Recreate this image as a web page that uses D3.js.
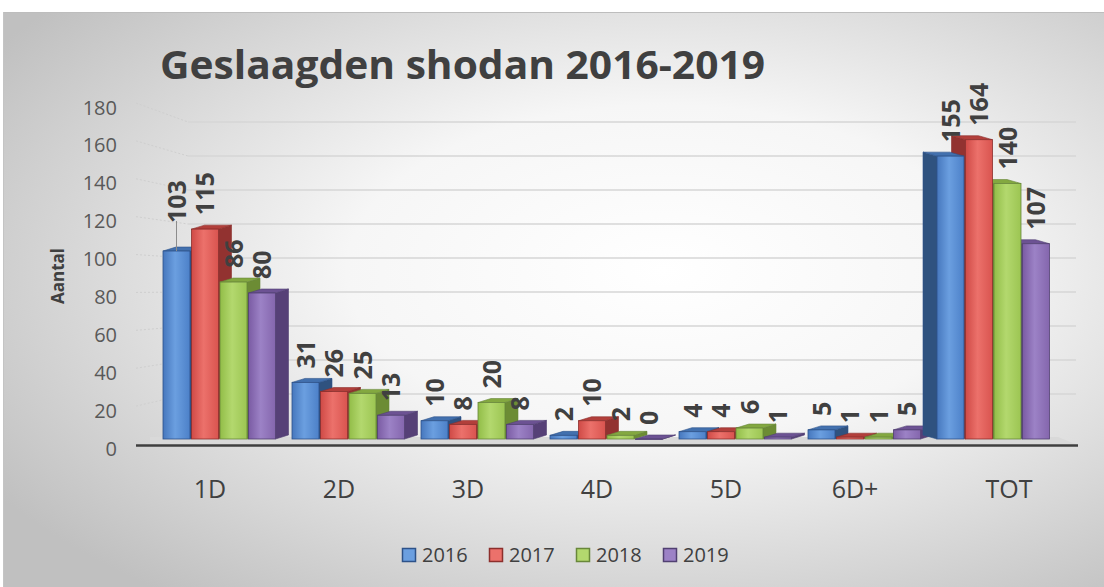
<!DOCTYPE html>
<html>
<head>
<meta charset="utf-8">
<script src="https://cdn.jsdelivr.net/npm/d3@7"></script>
<style>
  body { margin: 0; background: #ffffff; }
  svg { display: block; }
</style>
</head>
<body>
<svg id="chart" width="1104" height="587"></svg>
<script>
// Passed shodan exams per grade, 2016-2019
const categories = ["1D", "2D", "3D", "4D", "5D", "6D+", "TOT"];
const years = ["2016", "2017", "2018", "2019"];
const values2016 = [103, 31, 10, 2, 4, 5, 155];
const values2017 = [115, 26, 8, 10, 4, 1, 164];
const values2018 = [86, 25, 20, 2, 6, 1, 140];
const values2019 = [80, 13, 8, 0, 1, 5, 107];
const yTicks = [0, 20, 40, 60, 80, 100, 120, 140, 160, 180];

const seriesValues = [values2016, values2017, values2018, values2019];

// face colours per series: front (left, mid, right), side, top, outline
const palette = [
  { l: "#4677bd", m: "#6b9fe0", r: "#4c80c8", side: "#2f527f", top: "#4270ae", line: "#2d5289" },
  { l: "#cf4a46", m: "#ec716b", r: "#d9544f", side: "#923230", top: "#b23f3b", line: "#8c2f2c" },
  { l: "#92bd48", m: "#b3d86e", r: "#9cc552", side: "#6c8c34", top: "#83a840", line: "#68873a" },
  { l: "#7a5ba3", m: "#9c82c6", r: "#8466ad", side: "#564077", top: "#6c5293", line: "#514072" }
];

const svg = d3.select("#chart");
const W = 1104, H = 587;
const defs = svg.append("defs");

// chart area background
const bg = defs.append("radialGradient").attr("id", "bgGrad")
  .attr("cx", "0.6").attr("cy", "0.45").attr("r", "0.72");
bg.append("stop").attr("offset", "0").attr("stop-color", "#ffffff");
bg.append("stop").attr("offset", "0.4").attr("stop-color", "#f6f6f6");
bg.append("stop").attr("offset", "1").attr("stop-color", "#c0c0c0");

palette.forEach((p, i) => {
  const g = defs.append("linearGradient").attr("id", "front" + i)
    .attr("x1", "0").attr("x2", "1").attr("y1", "0").attr("y2", "0");
  g.append("stop").attr("offset", "0").attr("stop-color", p.l);
  g.append("stop").attr("offset", "0.45").attr("stop-color", p.m);
  g.append("stop").attr("offset", "1").attr("stop-color", p.r);
});

svg.append("rect").attr("x", 3).attr("y", 12).attr("width", W - 3).attr("height", H - 12)
  .attr("fill", "url(#bgGrad)");
svg.append("line").attr("x1", 3).attr("x2", W).attr("y1", 12.5).attr("y2", 12.5)
  .attr("stroke", "#bdbdbd").attr("stroke-width", 1);
svg.append("line").attr("x1", 3.5).attr("x2", 3.5).attr("y1", 12).attr("y2", H)
  .attr("stroke", "#c4c4c4").attr("stroke-width", 1);

// scales: bars, back-wall gridlines, front axis labels
const x = d3.scaleBand().domain(categories).range([163, 163 + 7 * 129]).padding(0);
const y = d3.scaleLinear().domain([0, 180]).range([439, 110.5]);
const yWall = d3.scaleLinear().domain([0, 180]).range([428, 122]);
const yLabel = d3.scaleLinear().domain([0, 180]).range([448, 107]);

const barStep = 28.5, barW = 27, depthY = -4;
const vanishX = 920;
const sideOf = c => (x(c) + x.bandwidth() / 2 < vanishX ? 1 : -1);
const depthX = c => (sideOf(c) > 0 ? 13 : -14);

// back-wall gridlines with their slanted connectors to the labels
const grid = svg.append("g");
yTicks.filter(t => t > 0).forEach(t => {
  grid.append("line")
    .attr("x1", 188).attr("x2", 1076)
    .attr("y1", yWall(t)).attr("y2", yWall(t))
    .attr("stroke", "#d6d6d6").attr("stroke-width", 1.6);
  grid.append("line")
    .attr("x1", 136).attr("x2", 188)
    .attr("y1", yLabel(t) - 4).attr("y2", yWall(t))
    .attr("stroke", "#cfcfcf").attr("stroke-width", 1).attr("stroke-dasharray", "2,2");
});

// floor slab
svg.append("path")
  .attr("d", "M150,437 L1058,437 L1078,445 L150,445 Z")
  .attr("fill", "#d9d9d9");
svg.append("line").attr("x1", 136).attr("x2", 1078).attr("y1", 445.5).attr("y2", 445.5)
  .attr("stroke", "#3f3f3f").attr("stroke-width", 2.5);

// y axis labels
const yAxis = d3.axisLeft(yLabel).tickValues(yTicks).tickSize(0).tickPadding(0);
const yg = svg.append("g").attr("transform", "translate(117,0)").call(yAxis);
yg.select(".domain").remove();
yg.selectAll("text")
  .attr("font-family", "'Open Sans', 'Noto Sans', sans-serif")
  .attr("font-size", 20).attr("fill", "#595959").attr("dy", "0.35em");

svg.append("text")
  .attr("transform", "translate(64,276) rotate(-90)")
  .attr("text-anchor", "middle")
  .attr("font-family", "'Open Sans', 'Noto Sans', sans-serif")
  .attr("font-weight", "bold").attr("font-size", 17).attr("fill", "#404040")
  .text("Aantal");

// 3D bars
const bars = svg.append("g");
const labels = svg.append("g");
const labelNudge = { "1D|2016": 14 };

categories.forEach((c, ci) => {
  const s = sideOf(c), dx = depthX(c);
  const order = s > 0 ? [0, 1, 2, 3] : [3, 2, 1, 0];
  order.forEach(si => {
    const v = seriesValues[si][ci];
    const p = palette[si];
    const x0 = x(c) + si * barStep, x1 = x0 + barW;
    const top = y(v), base = y(0);
    const g = bars.append("g");
    const edge = s > 0 ? x1 : x0;
    // side face
    g.append("path")
      .attr("d", `M${edge},${top} L${edge + dx},${top + depthY} L${edge + dx},${base + depthY} L${edge},${base} Z`)
      .attr("fill", p.side).attr("stroke", p.line).attr("stroke-width", 0.6);
    // top face
    g.append("path")
      .attr("d", `M${x0},${top} L${x1},${top} L${x1 + dx},${top + depthY} L${x0 + dx},${top + depthY} Z`)
      .attr("fill", p.top).attr("stroke", p.line).attr("stroke-width", 0.6);
    // front face
    g.append("rect")
      .attr("x", x0).attr("y", top).attr("width", barW).attr("height", Math.max(0.5, base - top))
      .attr("fill", `url(#front${si})`).attr("stroke", p.line).attr("stroke-width", 0.8);

    // value label
    const nudge = labelNudge[c + "|" + years[si]] || 0;
    const ly = top - 14 - nudge;
    const lx = x0 + barW / 2 + 9;
    labels.append("text")
      .attr("transform", `translate(${lx},${ly}) rotate(-90)`)
      .attr("font-family", "'Open Sans', 'Noto Sans', sans-serif")
      .attr("font-weight", "bold").attr("font-size", 25).attr("fill", "#404040")
      .text(v);
    if (nudge) {
      labels.append("line")
        .attr("x1", x0 + barW / 2).attr("x2", x0 + barW / 2)
        .attr("y1", top).attr("y2", ly - 2)
        .attr("stroke", "#8c8c8c").attr("stroke-width", 1);
    }
  });
});

// category labels
svg.append("g").selectAll("text").data(categories).join("text")
  .attr("x", c => x(c) + (sideOf(c) > 0 ? 47 : 72))
  .attr("y", 498)
  .attr("text-anchor", "middle")
  .attr("font-family", "'Open Sans', 'Noto Sans', sans-serif")
  .attr("font-size", 25).attr("fill", "#404040")
  .text(c => c);

// title
svg.append("text")
  .attr("x", 160).attr("y", 79)
  .attr("font-family", "'Open Sans', 'Noto Sans', sans-serif")
  .attr("font-weight", "bold").attr("font-size", 39).attr("fill", "#404040")
  .attr("textLength", 605).attr("lengthAdjust", "spacingAndGlyphs")
  .text("Geslaagden shodan 2016-2019");

// legend
const legendX = [402, 489, 576, 663];
const leg = svg.append("g");
years.forEach((yr, i) => {
  leg.append("rect")
    .attr("x", legendX[i] + 0.5).attr("y", 548.5).attr("width", 13).attr("height", 13)
    .attr("fill", palette[i].m).attr("stroke", palette[i].line).attr("stroke-width", 1.5);
  leg.append("text")
    .attr("x", legendX[i] + 20).attr("y", 562)
    .attr("font-family", "'Open Sans', 'Noto Sans', sans-serif")
    .attr("font-size", 20).attr("fill", "#404040")
    .text(yr);
});
</script>
</body>
</html>
